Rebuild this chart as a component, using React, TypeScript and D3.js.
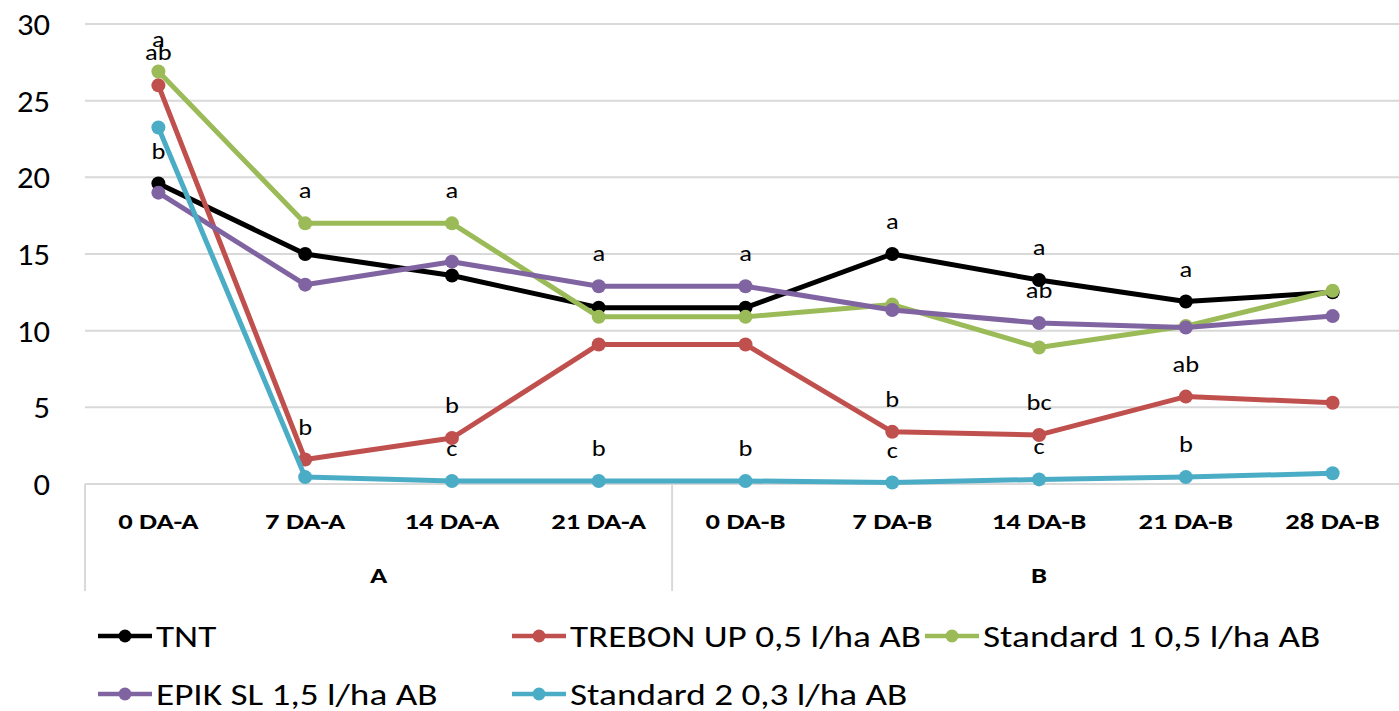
import * as d3 from 'd3';
import React from 'react';

const categories = ['0 DA-A', '7 DA-A', '14 DA-A', '21 DA-A', '0 DA-B', '7 DA-B', '14 DA-B', '21 DA-B', '28 DA-B'];
const groups = [{name: 'A', from: 0, to: 3}, {name: 'B', from: 4, to: 8}];
const yTicks = [0, 5, 10, 15, 20, 25, 30];

const seriesNames = ['TNT', 'TREBON UP 0,5 l/ha AB', 'Standard 1 0,5 l/ha AB', 'EPIK SL 1,5 l/ha AB', 'Standard 2 0,3 l/ha AB'];
const seriesColors = ['#000000', '#C0504D', '#9BBB59', '#8064A2', '#4BACC6'];

const tnt = [19.6, 15.0, 13.6, 11.5, 11.5, 15.0, 13.3, 11.9, 12.5];
const trebon = [26.0, 1.6, 3.0, 9.1, 9.1, 3.4, 3.2, 5.7, 5.3];
const standard1 = [26.9, 17.0, 17.0, 10.9, 10.9, 11.7, 8.9, 10.3, 12.6];
const epik = [19.0, 13.0, 14.5, 12.9, 12.9, 11.35, 10.5, 10.2, 10.95];
const standard2 = [23.25, 0.45, 0.2, 0.2, 0.2, 0.1, 0.3, 0.45, 0.7];

// significance letters, shown above each point
const tntLabels = ['b', '', '', '', '', 'a', 'a', 'a', ''];
const trebonLabels = ['ab', 'b', 'b', '', '', 'b', 'bc', 'ab', ''];
const standard1Labels = ['a', 'a', 'a', '', '', '', '', '', ''];
const epikLabels = ['', '', '', 'a', 'a', '', 'ab', '', ''];
const standard2Labels = ['', '', 'c', 'b', 'b', 'c', 'c', 'b', ''];

const values = [tnt, trebon, standard1, epik, standard2];
const labels = [tntLabels, trebonLabels, standard1Labels, epikLabels, standard2Labels];

const W = 1399, H = 711;
const left = 85, right = 1406, top = 24, bottom = 484;
const font = 'Carlito, Lato, sans-serif';

// the reference is a bit stretched sideways, so text gets an x-scale
function T(props: {x: number, y: number, sx: number, size: number, anchor?: string, bold?: boolean, children: React.ReactNode}) {
  return (
    <text transform={`translate(${props.x},${props.y}) scale(${props.sx},1)`} dy="0.35em"
      textAnchor={props.anchor || 'start'} fontFamily={font} fontSize={props.size}
      fontWeight={props.bold ? 'bold' : 'normal'} fill="#000">{props.children}</text>
  );
}

export default function App() {
  const x = d3.scaleBand<string>().domain(categories).range([left, right]).padding(0);
  const y = d3.scaleLinear().domain([0, 30]).range([bottom, top]);
  const cx = (c: string) => (x(c) as number) + x.bandwidth() / 2;
  const line = d3.line<number>().x((d, i) => cx(categories[i])).y(d => y(d));

  const legendPos = [
    {lx: 98, ly: 636}, {lx: 512, ly: 636}, {lx: 925, ly: 636},
    {lx: 98, ly: 694}, {lx: 512, ly: 694},
  ];

  const seps = [0, 4, categories.length].map(i => i < categories.length ? (x(categories[i]) as number) : right);

  return (
    <svg width={W} height={H} style={{position: 'absolute', left: 0, top: 0, background: '#fff'}}>
      {yTicks.map(t => (
        <g key={t}>
          {t > 0 && <line x1={left} x2={right} y1={y(t)} y2={y(t)} stroke="#d9d9d9" strokeWidth={2} />}
          <T x={50} y={y(t)} sx={1.05} size={31} anchor="end">{t}</T>
        </g>
      ))}
      <line x1={left} x2={right} y1={bottom} y2={bottom} stroke="#d9d9d9" strokeWidth={2} />
      {seps.map((sx, i) => (
        <line key={i} x1={sx} x2={sx} y1={bottom} y2={591} stroke="#d9d9d9" strokeWidth={2} />
      ))}
      {categories.map(c => (
        <T key={c} x={cx(c)} y={521} sx={1.3} size={22} anchor="middle" bold>{c}</T>
      ))}
      {groups.map(g => (
        <T key={g.name} x={(cx(categories[g.from]) + cx(categories[g.to])) / 2} y={575} sx={1.3} size={22} anchor="middle" bold>{g.name}</T>
      ))}
      {values.map((vals, s) => (
        <g key={s}>
          <path d={line(vals) as string} fill="none" stroke={seriesColors[s]} strokeWidth={5} strokeLinejoin="round" />
          {vals.map((v, i) => (
            <circle key={i} cx={cx(categories[i])} cy={y(v)} r={7} fill={seriesColors[s]} />
          ))}
        </g>
      ))}
      {labels.map((ls, s) => ls.map((l, i) => l && (
        <T key={s + '-' + i} x={cx(categories[i])} y={y(values[s][i]) - 33} sx={1.15} size={23} anchor="middle">{l}</T>
      )))}
      {seriesNames.map((n, s) => {
        const p = legendPos[s];
        return (
          <g key={n}>
            <line x1={p.lx} x2={p.lx + 54} y1={p.ly} y2={p.ly} stroke={seriesColors[s]} strokeWidth={4.5} />
            <circle cx={p.lx + 27} cy={p.ly} r={6.5} fill={seriesColors[s]} />
            <T x={p.lx + 58} y={p.ly} sx={1.24} size={30}>{n}</T>
          </g>
        );
      })}
    </svg>
  );
}
